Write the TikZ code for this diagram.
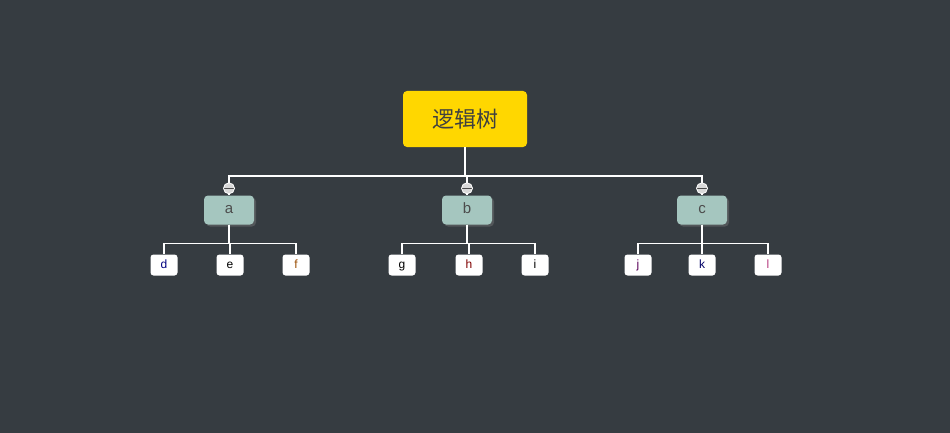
\documentclass[tikz,border=0pt]{standalone}
\usepackage{fontspec}
\setmainfont{Liberation Sans}
\newfontfamily\cjk{Noto Sans CJK SC}
\usetikzlibrary{shadows}
\definecolor{bgdark}{HTML}{363C41}
\definecolor{rootyellow}{HTML}{FFD700}
\definecolor{midgreen}{HTML}{A5C6BF}
\tikzset{
	rootbox/.style={
		% The shape:
		rectangle,rounded corners=4pt,
		minimum width=124pt,minimum height=56pt,
		fill=rootyellow,text=black!75,
		font=\cjk\fontsize{22}{22}\selectfont}}
\tikzset{
	midbox/.style={
		rectangle,rounded corners=4pt,
		minimum width=50pt,minimum height=29pt,
		fill=midgreen,text=black!70,
		text height=1.5ex,text depth=0.25ex,
		drop shadow={shadow xshift=2pt,shadow yshift=-2pt,opacity=0.4},
		font=\fontsize{15}{15}\selectfont}}
\tikzset{
	leafbox/.style={
		rectangle,rounded corners=3pt,
		minimum width=27pt,minimum height=21pt,
		fill=white,inner sep=0pt,
		text height=1.5ex,text depth=0.25ex,
		font=\fontsize{12}{12}\selectfont}}
\tikzset{
	fold/.style={
		circle,minimum size=11pt,inner sep=0pt,
		fill=white!85!black,draw=white,thick,
		path picture={\draw[black!70] (path picture bounding box.west) -- (path picture bounding box.east);}}}
\tikzset{link/.style={draw=white,line width=1.5pt}}
\begin{document}
\begin{tikzpicture}[x=1pt,y=1pt]
	\fill[bgdark] (0,0) rectangle (950,-433);
	\useasboundingbox (0,0) rectangle (950,-433);
	% Root and children
	\node[rootbox] (root) at (465,-119) {逻辑树};
	\node[midbox] (a) at (229,-210) {a};
	\node[midbox] (b) at (467,-210) {b};
	\node[midbox] (c) at (702,-210) {c};
	% Leaves
	\node[leafbox,text=blue!50!black] (d) at (164,-265) {d};
	\node[leafbox,text=black] (e) at (230,-265) {e};
	\node[leafbox,text=orange!60!black] (f) at (296,-265) {f};
	\node[leafbox,text=black] (g) at (402,-265) {g};
	\node[leafbox,text=red!50!black] (h) at (469,-265) {h};
	\node[leafbox,text=black] (i) at (535,-265) {i};
	\node[leafbox,text=violet!70!black] (j) at (638,-265) {j};
	\node[leafbox,text=blue!40!black] (k) at (702,-265) {k};
	\node[leafbox,text=magenta!70!black] (l) at (768,-265) {l};
	% Lines out of root
	\coordinate (bar) at (465,-176);
	\foreach \n in {a,b,c}
		\draw[link] (root.south) -- (bar) -| (\n.north);
	\foreach \n in {a,b,c}
		\node[fold] (fold\n) at ([yshift=7pt]\n.north) {};
	% Lines out of a, b, c
	\foreach \m/\leaves in {a/{d,e,f},b/{g,h,i},c/{j,k,l}}
		\foreach \n in \leaves
			\draw[link,line width=1.2pt] (\m.south) |- ([yshift=11pt]\n.north) -- (\n.north);
\end{tikzpicture}
\end{document}
